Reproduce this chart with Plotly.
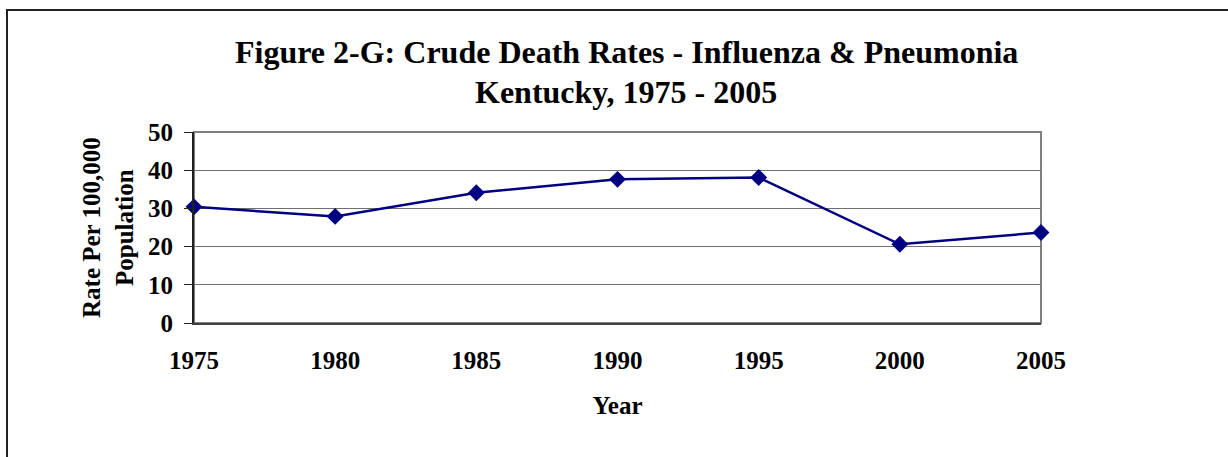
import plotly.graph_objects as go

years = [1975, 1980, 1985, 1990, 1995, 2000, 2005]
rates = [30.4, 27.9, 34.1, 37.6, 38.1, 20.6, 23.7]
y_ticks = [0, 10, 20, 30, 40, 50]

W, H = 1228, 457
L, R, T, B = 194, 1228 - 1041, 132, 457 - 323
pw, ph = W - L - R, H - T - B

def px_x(x):
    return (x - L) / pw

def px_y(y):
    return (H - B - y) / ph

FONT = "Liberation Serif, Times New Roman, serif"
NAVY = "#000080"

fig = go.Figure()
fig.add_trace(go.Scatter(
    x=years, y=rates, mode="lines+markers",
    line=dict(color=NAVY, width=2.5),
    marker=dict(symbol="diamond", size=13, color=NAVY),
    cliponaxis=False, showlegend=False,
))

fig.update_layout(
    width=W, height=H,
    margin=dict(l=L, r=R, t=T, b=B, autoexpand=False),
    paper_bgcolor="white", plot_bgcolor="white",
    font=dict(family=FONT, color="black", size=25, weight="bold"),
    xaxis=dict(
        range=[1975, 2005], tickvals=years, ticktext=[str(y) for y in years],
        showgrid=False, zeroline=False, showline=True, linecolor="#404040", linewidth=2,
        ticks="", ticklabelstandoff=14,
        tickfont=dict(family=FONT, size=25, weight="bold"),
        title=dict(text="Year", standoff=23, font=dict(family=FONT, size=25, weight="bold")),
        automargin=False, fixedrange=True,
    ),
    yaxis=dict(
        range=[0, 50], tickvals=y_ticks,
        showgrid=True, gridcolor="#707070", gridwidth=1,
        zeroline=False, showline=True, linecolor="#202020", linewidth=2,
        ticks="outside", ticklen=8, tickcolor="#202020", tickwidth=1,
        ticklabelstandoff=6,
        tickfont=dict(family=FONT, size=25, weight="bold"),
        automargin=False, fixedrange=True,
    ),
    shapes=[
        dict(type="rect", xref="paper", yref="paper", x0=0, x1=1, y0=0, y1=1,
             line=dict(color="#808080", width=2), layer="below"),
        dict(type="rect", xref="paper", yref="paper",
             x0=px_x(7), x1=px_x(1300), y0=px_y(10), y1=px_y(520),
             line=dict(color="#222222", width=2)),
    ],
    annotations=[
        dict(text="Figure 2-G: Crude Death Rates - Influenza & Pneumonia",
             xref="paper", yref="paper", x=px_x(626), y=px_y(52), xanchor="center", yanchor="middle",
             showarrow=False, font=dict(family=FONT, size=32, weight="bold")),
        dict(text="Kentucky, 1975 - 2005",
             xref="paper", yref="paper", x=px_x(626), y=px_y(92), xanchor="center", yanchor="middle",
             showarrow=False, font=dict(family=FONT, size=32, weight="bold")),
        dict(text="Rate Per 100,000<br>Population", textangle=-90,
             xref="paper", yref="paper", x=px_x(108), y=px_y(228), xanchor="center", yanchor="middle",
             showarrow=False, font=dict(family=FONT, size=25, weight="bold")),
    ],
)

fig.write_html("out.html", config={"displayModeBar": False},
               post_script="document.body.style.margin='0';document.body.style.overflow='hidden';")
